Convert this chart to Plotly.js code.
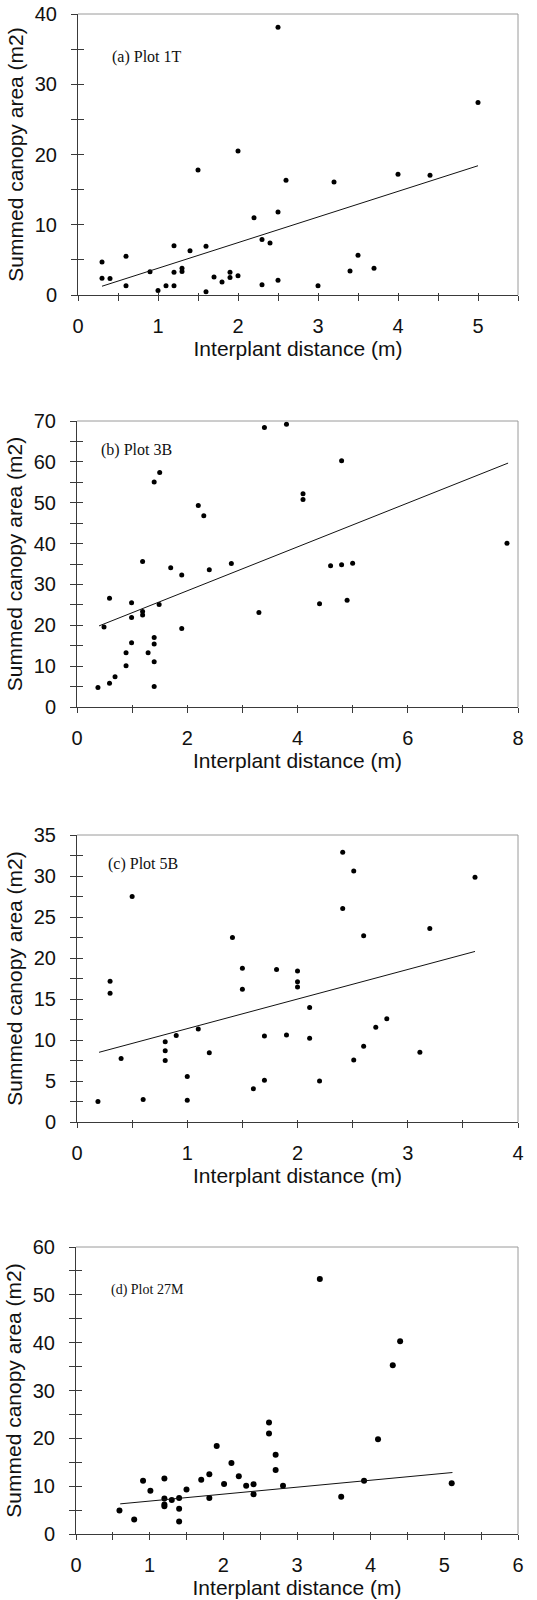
<!DOCTYPE html>
<html>
<head>
<meta charset="utf-8">
<script src="https://cdn.plot.ly/plotly-3.0.1.min.js"></script>
<style>
  html, body { margin: 0; padding: 0; background: #ffffff; }
  #chart { width: 537px; height: 1600px; }
</style>
</head>
<body>
<div id="chart"></div>
<script>
// ---------------- DATA ----------------
// (a) Plot 1T
const distA = [0.3,0.3,0.4,0.6,0.6,0.9,1.0,1.1,1.2,1.2,1.2,1.3,1.3,1.4,1.5,1.6,1.6,1.7,1.8,1.9,1.9,2.0,2.0,2.2,2.3,2.3,2.4,2.5,2.5,2.5,2.6,3.0,3.2,3.4,3.5,3.7,4.0,4.4,5.0];
const areaA = [4.7,2.4,2.35,5.5,1.3,3.3,0.65,1.3,7.0,3.25,1.3,3.8,3.35,6.3,17.8,6.95,0.45,2.55,1.85,3.25,2.5,20.5,2.75,11.0,7.9,1.45,7.4,38.1,11.8,2.1,16.35,1.3,16.1,3.4,5.65,3.8,17.2,17.05,27.4];
const fitAx = [0.3, 5.0];
const fitAy = [1.25, 18.4];

// (b) Plot 3B
const distB = [0.38,0.49,0.59,0.59,0.69,0.89,0.89,0.99,0.99,0.99,1.19,1.19,1.19,1.29,1.4,1.4,1.4,1.4,1.4,1.5,1.49,1.7,1.9,1.9,2.2,2.3,2.4,2.8,3.3,3.4,3.8,4.1,4.1,4.4,4.6,4.8,4.8,4.9,5.0,7.8];
const areaB = [4.8,19.6,26.6,5.8,7.4,13.3,10.1,25.5,21.9,15.7,35.6,23.4,22.5,13.3,55.1,17.0,15.4,11.1,5.0,57.4,25.1,34.1,32.3,19.2,49.3,46.8,33.6,35.1,23.1,68.4,69.2,52.2,50.8,25.3,34.6,60.3,34.8,26.1,35.2,40.1];
const fitBx = [0.4, 7.82];
const fitBy = [19.85, 59.7];

// (c) Plot 5B
const distC = [0.19,0.3,0.3,0.4,0.5,0.6,0.8,0.8,0.8,0.9,1.0,1.0,1.1,1.2,1.41,1.5,1.5,1.6,1.7,1.7,1.81,1.9,2.0,2.0,2.0,2.11,2.11,2.2,2.41,2.41,2.51,2.51,2.6,2.6,2.71,2.81,3.11,3.2,3.61];
const areaC = [2.5,17.15,15.7,7.75,27.5,2.75,9.8,8.7,7.5,10.55,5.55,2.65,11.35,8.45,22.5,18.75,16.2,4.05,10.5,5.1,18.6,10.6,18.4,17.1,16.45,13.95,10.2,5.0,32.9,26.05,7.55,30.6,22.7,9.25,11.55,12.6,8.5,23.6,29.85];
const fitCx = [0.2, 3.61];
const fitCy = [8.5, 20.8];

// (d) Plot 27M
const distD = [0.59,0.79,0.91,1.01,1.2,1.2,1.2,1.2,1.3,1.4,1.4,1.4,1.5,1.7,1.81,1.81,1.91,2.01,2.11,2.21,2.31,2.41,2.41,2.62,2.62,2.71,2.71,2.81,3.31,3.6,3.91,4.1,4.3,4.4,5.1];
const areaD = [4.9,3.05,11.15,9.05,11.6,7.4,6.15,5.8,7.1,7.55,5.3,2.6,9.3,11.35,12.5,7.55,18.4,10.45,14.85,12.05,10.1,10.4,8.3,23.3,21.0,16.55,13.4,10.1,53.3,7.8,11.15,19.8,35.3,40.3,10.6];
const fitDx = [0.6, 5.11];
const fitDy = [6.3, 12.85];

const panelLabels = ["(a) Plot 1T", "(b) Plot 3B", "(c) Plot 5B", "(d) Plot 27M"];
const xTitle = "Interplant distance (m)";
const yTitle = "Summed canopy area (m2)";

// ---------------- LAYOUT (positions / styles) ----------------
const W = 537, H = 1600;
const fx = p => p / W;
const fy = p => 1 - p / H;

const panels = [
  { xs: distA, ys: areaA, fx: fitAx, fy: fitAy, left: 78, right: 518, top: 14, bottom: 295,
    xr: [0, 5.5], xd: 1, xm: 0.5, yr: [0, 40], yd: 10, ym: 5, msize: 5,
    lab: { x: 110, y: 57, size: 16 } },
  { xs: distB, ys: areaB, fx: fitBx, fy: fitBy, left: 77, right: 518, top: 421, bottom: 707,
    xr: [0, 8], xd: 2, xm: 1, yr: [0, 70], yd: 10, ym: 5, msize: 5,
    lab: { x: 99, y: 450, size: 16 } },
  { xs: distC, ys: areaC, fx: fitCx, fy: fitCy, left: 77, right: 518, top: 835, bottom: 1122,
    xr: [0, 4], xd: 1, xm: 0.5, yr: [0, 35], yd: 5, ym: 2.5, msize: 5,
    lab: { x: 106, y: 864, size: 16 } },
  { xs: distD, ys: areaD, fx: fitDx, fy: fitDy, left: 76, right: 518, top: 1247, bottom: 1534,
    xr: [0, 6], xd: 1, xm: 0.5, yr: [0, 60], yd: 10, ym: 5, msize: 6,
    lab: { x: 109, y: 1290, size: 14 } }
];

const FONT = "Liberation Sans, Arial, sans-serif";
const SERIF = "Liberation Serif, Times New Roman, serif";
const AX = "#3a3a3a";
const BOX = "#9a9a9a";
const TXT = "#111111";

const traces = [];
const layout = {
  width: W, height: H,
  margin: { l: 0, r: 0, t: 0, b: 0, pad: 0 },
  paper_bgcolor: "#ffffff", plot_bgcolor: "#ffffff",
  showlegend: false,
  font: { family: FONT, color: TXT },
  annotations: [], shapes: []
};

panels.forEach((p, i) => {
  const n = i === 0 ? "" : String(i + 1);
  const m = String(i + 5);           // overlay axes for the inner half of the crossing ticks
  const xa = "x" + n, ya = "y" + n;
  traces.push({
    type: "scatter", mode: "markers", x: p.xs, y: p.ys, xaxis: xa, yaxis: ya,
    marker: { color: "#000000", size: p.msize }, cliponaxis: false, hoverinfo: "skip"
  });
  traces.push({
    type: "scatter", mode: "lines", x: p.fx, y: p.fy, xaxis: xa, yaxis: ya,
    line: { color: TXT, width: 1 }, hoverinfo: "skip"
  });
  traces.push({
    type: "scatter", mode: "markers", x: [], y: [], xaxis: "x" + m, yaxis: "y" + m,
    hoverinfo: "skip", showlegend: false
  });
  layout["xaxis" + n] = {
    domain: [fx(p.left), fx(p.right)], anchor: ya, range: p.xr, tick0: 0, dtick: p.xd,
    ticks: "outside", ticklen: 5, tickwidth: 1, tickcolor: AX,
    showline: true, linecolor: AX, linewidth: 1, zeroline: false, showgrid: false,
    tickfont: { family: FONT, size: 20, color: TXT }, ticklabelstandoff: 8,
    minor: { tick0: 0, dtick: p.xm, ticks: "outside", ticklen: 5, tickwidth: 1, tickcolor: AX, showgrid: false },
    title: { text: xTitle, font: { family: FONT, size: 21, color: TXT }, standoff: 4 },
    fixedrange: true
  };
  layout["yaxis" + n] = {
    domain: [fy(p.bottom), fy(p.top)], anchor: xa, range: p.yr, tick0: 0, dtick: p.yd,
    ticks: "outside", ticklen: 6, tickwidth: 1, tickcolor: AX,
    showline: true, linecolor: AX, linewidth: 1, zeroline: false, showgrid: false,
    tickfont: { family: FONT, size: 20, color: TXT }, ticklabelstandoff: 10,
    minor: { tick0: 0, dtick: p.ym, ticks: "outside", ticklen: 6, tickwidth: 1, tickcolor: AX, showgrid: false },
    title: { text: yTitle, font: { family: FONT, size: 21, color: TXT }, standoff: 5 },
    fixedrange: true
  };
  layout["xaxis" + m] = {
    overlaying: xa, anchor: "y" + m, range: p.xr, tick0: 0, dtick: p.xm,
    ticks: "inside", ticklen: 2, tickwidth: 1, tickcolor: AX,
    showline: false, zeroline: false, showgrid: false, showticklabels: false, fixedrange: true
  };
  layout["yaxis" + m] = {
    overlaying: ya, anchor: "x" + m, range: p.yr, tick0: 0, dtick: p.ym,
    ticks: "inside", ticklen: 6, tickwidth: 1, tickcolor: AX,
    showline: false, zeroline: false, showgrid: false, showticklabels: false, fixedrange: true
  };
  // light top and right frame lines
  layout.shapes.push({ type: "line", xref: "paper", yref: "paper",
    x0: fx(p.left), x1: fx(p.right), y0: fy(p.top), y1: fy(p.top), line: { color: BOX, width: 1 } });
  layout.shapes.push({ type: "line", xref: "paper", yref: "paper",
    x0: fx(p.right), x1: fx(p.right), y0: fy(p.top), y1: fy(p.bottom), line: { color: BOX, width: 1 } });
  layout.annotations.push({
    text: panelLabels[i], xref: "paper", yref: "paper", x: fx(p.lab.x), y: fy(p.lab.y),
    xanchor: "left", yanchor: "middle", showarrow: false,
    font: { family: SERIF, size: p.lab.size, color: TXT }
  });
});

Plotly.newPlot("chart", traces, layout, { staticPlot: true, displayModeBar: false });
</script>
</body>
</html>
